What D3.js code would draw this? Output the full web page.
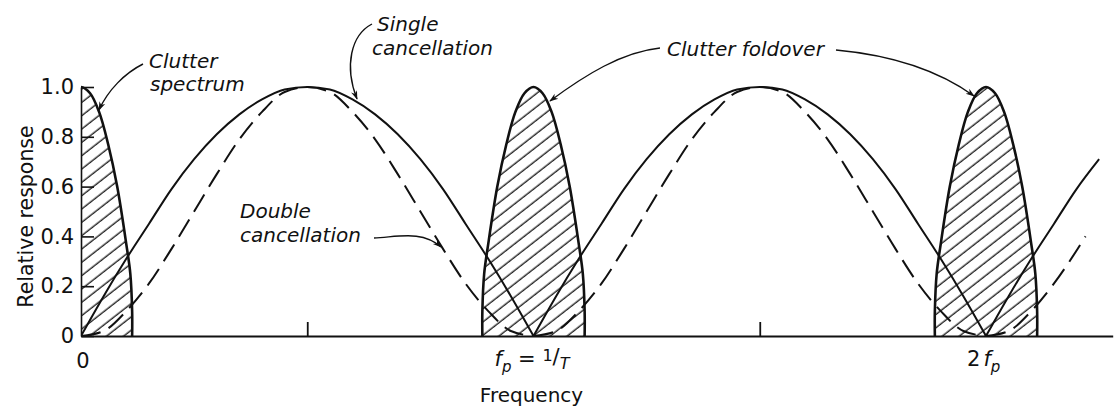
<!DOCTYPE html>
<html><head><meta charset="utf-8">
<script src="https://cdn.jsdelivr.net/npm/d3@7"></script>
<style>
html,body{margin:0;padding:0;background:#fff;}
svg{display:block;}
text{font-family:"DejaVu Sans",sans-serif;fill:#111;}
.note{font-style:italic;font-size:20px;}
</style></head><body>
<svg id="chart" width="1114" height="412"></svg>
<script>
// Frequency is given in multiples of the pulse repetition frequency f_p.
const singleFreq = [0,0.05,0.1,0.15,0.2,0.25,0.3,0.35,0.4,0.45,0.5,0.55,0.6,0.65,0.7,0.75,0.8,0.85,0.9,0.95,
  1,1.05,1.1,1.15,1.2,1.25,1.3,1.35,1.4,1.45,1.5,1.55,1.6,1.65,1.7,1.75,1.8,1.85,1.9,1.95,
  2,2.05,2.1,2.15,2.2,2.25];
const singleResponse = [0,0.16,0.31,0.45,0.59,0.71,0.81,0.89,0.95,0.99,1.00,0.99,0.95,0.89,0.81,0.71,0.59,0.45,0.31,0.16,
  0,0.16,0.31,0.45,0.59,0.71,0.81,0.89,0.95,0.99,1.00,0.99,0.95,0.89,0.81,0.71,0.59,0.45,0.31,0.16,
  0,0.16,0.31,0.45,0.59,0.71];

const doubleFreq = [0,0.05,0.1,0.15,0.2,0.25,0.3,0.35,0.4,0.45,0.5,0.55,0.6,0.65,0.7,0.75,0.8,0.85,0.9,0.95,
  1,1.05,1.1,1.15,1.2,1.25,1.3,1.35,1.4,1.45,1.5,1.55,1.6,1.65,1.7,1.75,1.8,1.85,1.9,1.95,
  2,2.05,2.1,2.15,2.22];
const doubleResponse = [0,0.02,0.10,0.21,0.35,0.50,0.65,0.79,0.90,0.98,1.00,0.98,0.90,0.79,0.65,0.50,0.35,0.21,0.10,0.02,
  0,0.02,0.10,0.21,0.35,0.50,0.65,0.79,0.90,0.98,1.00,0.98,0.90,0.79,0.65,0.50,0.35,0.21,0.10,0.02,
  0,0.02,0.10,0.21,0.40];

// Clutter spectrum lobe (offset from its centre, relative level); repeated at 0, f_p, 2f_p
const clutterCenters = [0, 1, 2];
const clutterOffset = [-0.113,-0.113,-0.109,-0.1,-0.08,-0.06,-0.04,-0.02,0,0.02,0.04,0.06,0.08,0.1,0.109,0.113,0.113];
const clutterLevel  = [0,0.1,0.25,0.37,0.6,0.77,0.9,0.975,1,0.975,0.9,0.77,0.6,0.37,0.25,0.1,0];

const yTicks = [0, 0.2, 0.4, 0.6, 0.8, 1.0];
const yTickLabels = ["0", "0.2", "0.4", "0.6", "0.8", "1.0"];
const xMinorTicks = [0.5, 1.5];

const svg = d3.select("#chart");
const x = d3.scaleLinear().domain([0, 2.28]).range([81, 81 + 2.28 * 452.5]);
const y = d3.scaleLinear().domain([0, 1]).range([336, 87]);

const defs = svg.append("defs");
const pat = defs.append("pattern")
  .attr("id", "hatch").attr("patternUnits", "userSpaceOnUse")
  .attr("width", 12).attr("height", 10.5)
  .attr("patternTransform", "rotate(-38)");
pat.append("line").attr("x1", -2).attr("x2", 14).attr("y1", 5).attr("y2", 5)
  .attr("stroke", "#111").attr("stroke-width", 1.3);
defs.append("clipPath").attr("id", "plotClip").append("rect")
  .attr("x", x(0)).attr("y", 0).attr("width", 1114 - x(0)).attr("height", y(0) + 1);
const mk = defs.append("marker").attr("id", "arrow").attr("viewBox", "0 0 10 10")
  .attr("refX", 9).attr("refY", 5).attr("markerWidth", 9).attr("markerHeight", 9)
  .attr("orient", "auto-start-reverse").attr("markerUnits", "userSpaceOnUse");
mk.append("path").attr("d", "M0,1.5 L10,5 L0,8.5 L3,5 Z").attr("fill", "#111");

const plot = svg.append("g").attr("clip-path", "url(#plotClip)");

// clutter lobes
const lobeLine = d3.line().curve(d3.curveCatmullRom.alpha(0.5));
const lobes = clutterCenters.map(c => clutterOffset.map((o, i) => [x(c + o), y(clutterLevel[i])]));
plot.selectAll("path.lobefill").data(lobes).join("path")
  .attr("class", "lobefill")
  .attr("d", d => lobeLine(d) + "Z")
  .attr("fill", "url(#hatch)").attr("stroke", "none");

// split a response series into lobes at its nulls so each null stays a sharp cusp
function lobesOf(freq, vals) {
  const segs = []; let cur = [];
  freq.forEach((f, i) => {
    cur.push([f, vals[i]]);
    if (vals[i] === 0 && cur.length > 1) { segs.push(cur); cur = [[f, 0]]; }
  });
  if (cur.length > 1) segs.push(cur);
  return segs;
}
const respLine = d3.line().x(d => x(d[0])).y(d => y(d[1])).curve(d3.curveMonotoneX);

plot.selectAll("path.single").data(lobesOf(singleFreq, singleResponse)).join("path")
  .attr("class", "single").attr("d", respLine)
  .attr("fill", "none").attr("stroke", "#111").attr("stroke-width", 2);

plot.append("path")
  .attr("d", lobesOf(doubleFreq, doubleResponse).map(s => respLine(s)).join(""))
  .attr("fill", "none").attr("stroke", "#111").attr("stroke-width", 2)
  .attr("stroke-dasharray", "20,9");

plot.selectAll("path.lobeedge").data(lobes).join("path")
  .attr("class", "lobeedge")
  .attr("d", d => lobeLine(d))
  .attr("fill", "none").attr("stroke", "#111").attr("stroke-width", 2.6);

// axes
const yAxis = d3.axisLeft(y).tickValues(yTicks)
  .tickFormat((d, i) => yTickLabels[i])
  .tickSizeInner(-13).tickSizeOuter(0).tickPadding(7);
const gy = svg.append("g").attr("transform", `translate(${x(0)},0)`).call(yAxis);
gy.selectAll("path,line").attr("stroke", "#111").attr("stroke-width", 1.6);
gy.selectAll("text").attr("font-family", "DejaVu Sans").attr("font-size", 21).attr("fill", "#111");

const xAxis = d3.axisBottom(x).tickValues(xMinorTicks).tickFormat("")
  .tickSizeInner(-14).tickSizeOuter(0);
const gx = svg.append("g").attr("transform", `translate(0,${y(0)})`).call(xAxis);
gx.selectAll("path,line").attr("stroke", "#111").attr("stroke-width", 1.8);

// axis titles
svg.append("text").attr("transform", `translate(33,${y(0.48)}) rotate(-90)`)
  .attr("text-anchor", "middle").attr("font-size", 20.5).text("Relative response");
svg.append("text").attr("x", x(1) - 2).attr("y", 402)
  .attr("text-anchor", "middle").attr("font-size", 20).text("Frequency");

// frequency labels
svg.append("text").attr("x", x(0) + 2).attr("y", 368).attr("text-anchor", "middle")
  .attr("font-size", 21).text("0");
const fpLab = svg.append("text").attr("x", x(1) - 39).attr("y", 366).attr("font-size", 21);
fpLab.append("tspan").attr("font-style", "italic").text("f");
fpLab.append("tspan").attr("font-style", "italic").attr("font-size", 15).attr("dy", 6).text("p");
fpLab.append("tspan").attr("dy", -6).text(" = ");
fpLab.append("tspan").attr("font-size", 16).attr("dy", -5).text("1");
fpLab.append("tspan").attr("font-size", 21).attr("dy", 3).text("/");
fpLab.append("tspan").attr("font-style", "italic").attr("font-size", 16).attr("dy", 5).text("T");
const f2Lab = svg.append("text").attr("x", x(2) - 19).attr("y", 366).attr("font-size", 21);
f2Lab.append("tspan").text("2");
f2Lab.append("tspan").attr("font-style", "italic").attr("dx", 3).text("f");
f2Lab.append("tspan").attr("font-style", "italic").attr("font-size", 15).attr("dy", 6).text("p");

// annotations, one text element per line
const notes = [
  ["Clutter", 149, 68], ["spectrum", 150, 91],
  ["Single", 377, 31], ["cancellation", 372, 55],
  ["Clutter foldover", 667, 56],
  ["Double", 240, 218], ["cancellation", 240, 242]
];
svg.selectAll("text.note").data(notes).join("text")
  .attr("class", "note").attr("x", d => d[1]).attr("y", d => d[2]).text(d => d[0]);

const arrows = [
  "M143,64 C125,73 108,90 99,110",
  "M372,24 C351,35 344,66 357,99",
  "M660,48 C622,52 585,75 550,101",
  "M836,50 C890,55 938,70 974,96",
  "M374,238 C398,237 422,230 441,247"
];
svg.selectAll("path.arrow").data(arrows).join("path")
  .attr("class", "arrow").attr("d", d => d)
  .attr("fill", "none").attr("stroke", "#111").attr("stroke-width", 1.4)
  .attr("marker-end", "url(#arrow)");
</script>
</body></html>
